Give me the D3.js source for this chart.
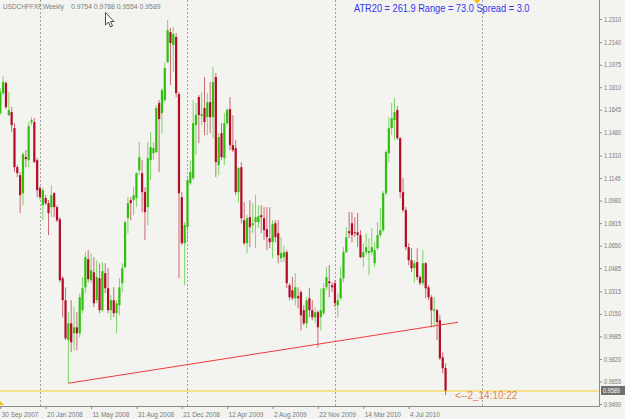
<!DOCTYPE html>
<html>
<head>
<meta charset="utf-8">
<script src="https://cdn.jsdelivr.net/npm/d3@7"></script>
<style>
  html, body { margin: 0; padding: 0; background: #f3f3f0; }
  svg { display: block; font-family: "Liberation Sans", Arial, sans-serif; }
</style>
</head>
<body>
<div id="chart"></div>
<script>
// weekly USDCHF bars, first bar = 30 Sep 2007
const opens = [1.1621,1.1767,1.1841,1.1606,1.1628,1.1511,1.1225,1.1166,1.1034,1.1298,1.1276,1.1555,1.1555,1.1276,1.1071,1.0946,1.0998,1.0961,1.0932,1.1034,
  1.0932,1.0844,1.0411,1.0250,0.9957,1.0081,1.0008,1.0052,1.0008,1.0177,1.0345,1.0551,1.0397,1.0455,1.0250,1.0411,1.0177,1.0448,1.0338,1.0177,
  1.0250,1.0155,1.0213,1.0375,1.0492,1.0851,1.0983,1.0983,1.0998,1.1203,1.1181,1.1042,1.0932,1.1276,1.1327,1.1335,1.1694,1.1620,1.1716,1.1994,
  1.2214,1.2119,1.2178,1.1760,1.1005,1.0668,1.0785,1.1108,1.1144,1.1533,1.1738,1.1599,1.1657,1.1591,1.1701,1.1591,1.1885,1.1240,1.1474,1.1291,
  1.1547,1.1650,1.1386,1.1364,1.1042,1.1225,1.0836,1.0668,1.0858,1.0800,1.0822,1.0822,1.0873,1.0851,1.0770,1.0704,1.0675,1.0814,1.0741,1.0558,
  1.0565,1.0602,1.0360,1.0323,1.0265,1.0279,1.0309,1.0177,1.0081,1.0265,1.0177,1.0125,1.0162,1.0125,1.0155,1.0345,1.0389,1.0360,1.0375,1.0213,
  1.0265,1.0411,1.0602,1.0756,1.0814,1.0748,1.0748,1.0727,1.0565,1.0602,1.0595,1.0602,1.0521,1.0631,1.0727,1.0763,1.1034,1.1327,1.1511,1.1569,
  1.1643,1.1437,1.1042,1.0910,1.0639,1.0543,1.0485,1.0529,1.0419,1.0375,1.0521,1.0345,1.0272,1.0173,1.0177,1.0103,0.9832,0.9754];
const highs = [1.1804,1.1892,1.1855,1.1775,1.1665,1.1547,1.1240,1.1188,1.1335,1.1350,1.1555,1.1591,1.1584,1.1291,1.1086,1.1078,1.1020,1.0983,1.1093,1.1042,
  1.0946,1.0858,1.0426,1.0345,1.0162,1.0250,1.0199,1.0162,1.0301,1.0419,1.0602,1.0617,1.0594,1.0565,1.0543,1.0521,1.0529,1.0521,1.0485,1.0287,
  1.0345,1.0250,1.0411,1.0521,1.0836,1.1005,1.1005,1.1078,1.1188,1.1408,1.1276,1.1078,1.1408,1.1481,1.1408,1.1679,1.1716,1.1804,1.1994,1.2302,
  1.2244,1.2251,1.2207,1.1775,1.1042,1.0822,1.1152,1.1276,1.1716,1.1694,1.1753,1.1775,1.1885,1.1767,1.1848,1.1958,1.1914,1.1474,1.1547,1.1621,
  1.1657,1.1738,1.1606,1.1423,1.1225,1.1262,1.0968,1.0873,1.0983,1.0961,1.1020,1.0946,1.0946,1.0932,1.0932,1.0932,1.0836,1.0836,1.0836,1.0712,
  1.0653,1.0617,1.0375,1.0419,1.0448,1.0345,1.0323,1.0213,1.0272,1.0338,1.0250,1.0199,1.0177,1.0338,1.0375,1.0492,1.0507,1.0382,1.0397,1.0301,
  1.0492,1.0639,1.0785,1.0895,1.0895,1.0858,1.0888,1.0763,1.0668,1.0741,1.0704,1.0778,1.0675,1.0822,1.0924,1.1049,1.1350,1.1591,1.1694,1.1731,
  1.1672,1.1445,1.1144,1.0932,1.0668,1.0631,1.0543,1.0631,1.0433,1.0617,1.0529,1.0360,1.0287,1.0272,1.0184,1.0140,0.9869,0.9788];
const lows = [1.1606,1.1753,1.1650,1.1599,1.1481,1.1188,1.1152,1.0888,1.0946,1.1225,1.1225,1.1533,1.1254,1.1005,1.0990,1.0836,1.0946,1.0727,1.0858,1.0858,
  1.0822,1.0382,1.0125,0.9957,0.9642,0.9869,0.9883,0.9883,0.9979,1.0155,1.0301,1.0382,1.0375,1.0199,1.0228,1.0155,1.0162,1.0301,1.0155,1.0103,
  1.0125,1.0008,1.0140,1.0309,1.0485,1.0741,1.0836,1.0873,1.0932,1.1166,1.0895,1.0690,1.0800,1.1130,1.1276,1.1327,1.1188,1.1474,1.1701,1.1987,
  1.1826,1.1921,1.1738,1.0411,1.0653,1.0360,1.0690,1.1093,1.1130,1.1313,1.1401,1.1533,1.1459,1.1459,1.1474,1.1437,1.1152,1.1166,1.1276,1.1240,
  1.1533,1.1350,1.1335,1.1020,1.0968,1.0814,1.0653,1.0595,1.0639,1.0741,1.0631,1.0778,1.0741,1.0690,1.0617,1.0631,1.0558,1.0675,1.0521,1.0529,
  1.0529,1.0338,1.0250,1.0250,1.0213,1.0191,1.0030,1.0067,1.0045,1.0125,1.0103,1.0081,0.9905,1.0030,1.0140,1.0323,1.0272,1.0309,1.0199,1.0125,
  1.0250,1.0382,1.0595,1.0704,1.0675,1.0712,1.0639,1.0558,1.0492,1.0580,1.0433,1.0580,1.0492,1.0617,1.0712,1.0748,1.1020,1.1262,1.1459,1.1423,
  1.1423,1.0998,1.0895,1.0617,1.0507,1.0455,1.0382,1.0397,1.0360,1.0360,1.0265,1.0250,1.0052,1.0052,0.9957,0.9810,0.9715,0.9554];
const closes = [1.1775,1.1848,1.1665,1.1643,1.1533,1.1225,1.1181,1.1020,1.1320,1.1284,1.1525,1.1569,1.1262,1.1056,1.1005,1.1056,1.0961,1.0888,1.1020,1.0932,
  1.0836,1.0397,1.0250,0.9971,1.0081,0.9942,1.0052,1.0008,1.0272,1.0338,1.0565,1.0404,1.0470,1.0228,1.0419,1.0177,1.0463,1.0338,1.0177,1.0250,
  1.0155,1.0228,1.0345,1.0485,1.0822,1.0961,1.0961,1.1020,1.1181,1.1298,1.1042,1.0895,1.1291,1.1371,1.1364,1.1657,1.1577,1.1789,1.1951,1.2229,
  1.2134,1.2200,1.1767,1.1034,1.0668,1.0800,1.1130,1.1188,1.1547,1.1606,1.1606,1.1613,1.1555,1.1701,1.1591,1.1848,1.1262,1.1445,1.1298,1.1547,
  1.1643,1.1386,1.1350,1.1042,1.1218,1.0851,1.0668,1.0851,1.0785,1.0814,1.0858,1.0866,1.0858,1.0763,1.0712,1.0675,1.0807,1.0712,1.0580,1.0595,
  1.0602,1.0375,1.0272,1.0265,1.0345,1.0265,1.0140,1.0081,1.0250,1.0177,1.0125,1.0162,1.0052,1.0177,1.0338,1.0419,1.0375,1.0345,1.0228,1.0250,
  1.0411,1.0602,1.0712,1.0741,1.0727,1.0741,1.0727,1.0565,1.0602,1.0639,1.0610,1.0639,1.0617,1.0727,1.0763,1.1034,1.1335,1.1511,1.1584,1.1628,
  1.1437,1.1042,1.0910,1.0639,1.0543,1.0485,1.0521,1.0419,1.0375,1.0521,1.0338,1.0272,1.0177,1.0184,1.0089,0.9825,0.9752,0.9589];

const xTickIdx = [0, 16, 32, 48, 64, 80, 96, 112, 128, 144];
const xTickLabels = ['30 Sep 2007', '20 Jan 2008', '11 May 2008', '31 Aug 2008', '21 Dec 2008',
  '12 Apr 2009', '2 Aug 2009', '22 Nov 2009', '14 Mar 2010', '4 Jul 2010'];
const yearStarts = [14, 66, 118, 170];
const yTicks = [1.2310, 1.2140, 1.1975, 1.1810, 1.1645, 1.1480, 1.1310, 1.1145, 1.0980,
  1.0815, 1.0650, 1.0485, 1.0315, 1.0150, 0.9985, 0.9820, 0.9655, 0.9490];
// trendline drawn from the March 2008 low
const trendIdx = [24, 161.4];
const trendVal = [0.9642, 1.0089];
const lastPrice = 0.9589;

const W = 625, H = 419;
const plotW = 599, plotH = 406;

const svg = d3.select('#chart').append('svg')
  .attr('width', W).attr('height', H);

svg.append('rect').attr('width', W).attr('height', H).attr('fill', '#f3f3f0');

const x = d3.scaleLinear().domain([0, 211]).range([0.3, 598.7]);
const y = d3.scaleLinear().domain([0.9490, 1.2310]).range([404, 19]);

const plot = svg.append('g');

// period separators
plot.selectAll('.sep')
  .data(yearStarts)
  .join('line')
  .attr('x1', d => Math.round(x(d)) + 0.5).attr('x2', d => Math.round(x(d)) + 0.5)
  .attr('y1', 0).attr('y2', plotH)
  .attr('stroke', '#a2a2a2')
  .attr('stroke-dasharray', '2,2');

// bid line
plot.append('line')
  .attr('x1', 0).attr('x2', plotW)
  .attr('y1', y(lastPrice) + 0.5).attr('y2', y(lastPrice) + 0.5)
  .attr('stroke', '#f6e08c').attr('stroke-width', 2);

const bars = d3.range(opens.length);
const up = i => closes[i] >= opens[i];
const green = '#2ec00c', red = '#b30c25';

plot.selectAll('.wick')
  .data(bars)
  .join('line')
  .attr('x1', i => x(i)).attr('x2', i => x(i))
  .attr('y1', i => y(highs[i])).attr('y2', i => y(lows[i]))
  .attr('stroke', i => up(i) ? green : red)
  .attr('stroke-opacity', 0.6)
  .attr('stroke-width', 1);

plot.selectAll('.body')
  .data(bars)
  .join('rect')
  .attr('x', i => x(i) - 1.1)
  .attr('width', 2.2)
  .attr('y', i => y(Math.max(opens[i], closes[i])))
  .attr('height', i => Math.max(1, Math.abs(y(opens[i]) - y(closes[i]))))
  .attr('fill', i => up(i) ? green : red);

// trendline
plot.append('line')
  .attr('x1', x(trendIdx[0])).attr('y1', y(trendVal[0]))
  .attr('x2', x(trendIdx[1])).attr('y2', y(trendVal[1]))
  .attr('stroke', '#f03c3c').attr('stroke-width', 1);

// axes
const xAxis = svg.append('g')
  .attr('transform', `translate(0,${plotH})`)
  .call(d3.axisBottom(x).tickValues(xTickIdx).tickFormat((d, i) => xTickLabels[i]).tickSize(3).tickSizeOuter(0));
xAxis.select('.domain').remove();
xAxis.selectAll('line').attr('stroke', '#8c8c8c');
xAxis.selectAll('text')
  .attr('font-family', '"Liberation Sans", Arial, sans-serif')
  .attr('font-size', 7.2)
  .attr('fill', '#7a7a7a')
  .attr('text-anchor', 'start')
  .attr('x', 1).attr('y', 6).attr('dy', '0.71em')
  .attr('transform', 'scale(0.9,1)');

const yAxis = svg.append('g')
  .attr('transform', `translate(${plotW},0)`)
  .call(d3.axisRight(y).tickValues(yTicks).tickFormat(d3.format('.4f')).tickSize(3).tickSizeOuter(0));
yAxis.select('.domain').remove();
yAxis.selectAll('line').attr('stroke', '#8c8c8c');
yAxis.selectAll('text')
  .attr('font-family', '"Liberation Sans", Arial, sans-serif')
  .attr('font-size', 6.5)
  .attr('fill', '#7a7a7a')
  .attr('x', 6)
  .attr('transform', 'scale(0.85,1)');

svg.append('line').attr('x1', 0).attr('x2', plotW).attr('y1', plotH + 0.5).attr('y2', plotH + 0.5).attr('stroke', '#8c8c8c');
svg.append('line').attr('x1', plotW + 0.5).attr('x2', plotW + 0.5).attr('y1', 0).attr('y2', plotH + 1).attr('stroke', '#8c8c8c');

// last price box
svg.append('rect')
  .attr('x', plotW + 2).attr('y', y(lastPrice) - 4.5)
  .attr('width', 24).attr('height', 9)
  .attr('fill', '#707070');
svg.append('text')
  .attr('transform', `translate(${plotW + 4},${y(lastPrice) + 2.5}) scale(0.85,1)`)
  .attr('font-size', 6.5).attr('fill', '#fff')
  .text(d3.format('.4f')(lastPrice));

// header texts
svg.append('text')
  .attr('transform', 'translate(3,9) scale(0.92,1)')
  .attr('font-size', 7).attr('fill', '#7d7d7d')
  .text('USDCHFFXF,Weekly');
svg.append('text')
  .attr('transform', 'translate(71,9) scale(0.98,1)')
  .attr('font-size', 7).attr('fill', '#7d7d7d')
  .attr('xml:space', 'preserve')
  .text([opens, highs, lows, closes].map(a => a[a.length - 1].toFixed(4)).join(' '));

svg.append('text')
  .attr('transform', 'translate(354,12) scale(0.84,1)')
  .attr('font-size', 11).attr('fill', '#3434f0')
  .text('ATR20 = 261.9 Range = 73.0 Spread = 3.0');

svg.append('text')
  .attr('transform', `translate(455,${y(lastPrice) + 8.5}) scale(0.95,1)`)
  .attr('font-size', 10.5).attr('fill', '#e5824f')
  .text('<--2_14:10:22');

// shift markers
svg.append('path').attr('d', 'M474,0 L480,0 L477,4 Z').attr('fill', '#f2c200');
svg.append('path').attr('d', 'M0,401 L4,405 L0,405 Z').attr('fill', '#f2c200');

// mouse pointer
svg.append('path')
  .attr('d', 'M105.5,12.5 L105.5,25 L108.5,22 L110.5,27 L112.5,26 L110.5,21.5 L114,21.5 Z')
  .attr('fill', '#fff').attr('stroke', '#222').attr('stroke-width', 0.8);
</script>
</body>
</html>
